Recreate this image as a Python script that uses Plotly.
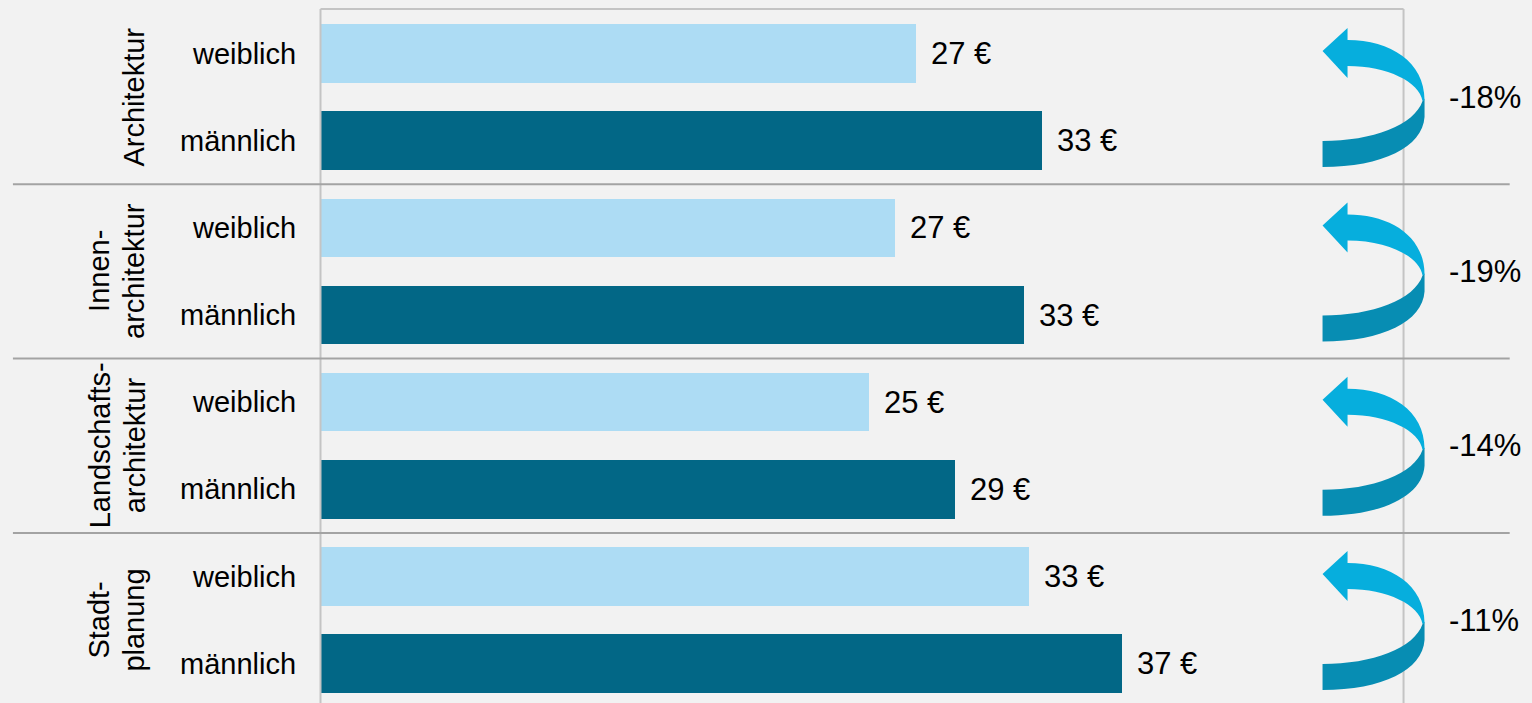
import plotly.graph_objects as go

# ---------------- data ----------------
groups = ["Architektur", "Innen-<br>architektur", "Landschafts-<br>architektur", "Stadt-<br>planung"]
sexes = ["weiblich", "männlich"]
weiblich = [27.5, 26.5, 25.3, 32.7]     # € per hour
maennlich = [33.3, 32.5, 29.3, 37.0]    # € per hour
weiblich_labels = ["27 €", "27 €", "25 €", "33 €"]
maennlich_labels = ["33 €", "33 €", "29 €", "37 €"]
gap_labels = ["-18%", "-19%", "-14%", "-11%"]

# ---------------- layout geometry ----------------
W, H = 1532, 703
X_RANGE = [-14.797, 55.93]
Y_RANGE = [7.451, -0.6137]
PXX = W / (X_RANGE[1] - X_RANGE[0])
PXY = H / (Y_RANGE[0] - Y_RANGE[1])
X_AXIS_MAX = 50
ARROW_X = 46.26
LINE_GAP = 35  # px between the two lines of a group label

FONT = "Liberation Sans, Arial, sans-serif"
C_W = "#ADDCF4"
C_M = "#026786"
C_ARROW_TOP = "#06AEDD"
C_ARROW_BOT = "#078DB3"
C_FRAME = "#C4C4C4"
C_SEP = "#A3A3A3"
BG = "#F2F2F2"

y_w = [2 * i for i in range(len(groups))]
y_m = [2 * i + 1 for i in range(len(groups))]

fig = go.Figure()
fig.add_trace(go.Bar(x=weiblich, y=y_w, orientation="h", width=0.672,
                     marker=dict(color=C_W, line=dict(width=0)), name="weiblich",
                     showlegend=False))
fig.add_trace(go.Bar(x=maennlich, y=y_m, orientation="h", width=0.672,
                     marker=dict(color=C_M, line=dict(width=0)), name="männlich",
                     showlegend=False))

shapes = []
annotations = []

# frame lines
shapes.append(dict(type="line", xref="x", yref="y", x0=0, x1=0, y0=-0.51, y1=Y_RANGE[0],
                   line=dict(color=C_FRAME, width=2)))
shapes.append(dict(type="line", xref="x", yref="y", x0=X_AXIS_MAX, x1=X_AXIS_MAX, y0=-0.51, y1=Y_RANGE[0],
                   line=dict(color=C_FRAME, width=2)))
shapes.append(dict(type="line", xref="x", yref="y", x0=0, x1=X_AXIS_MAX, y0=-0.51, y1=-0.51,
                   line=dict(color=C_FRAME, width=2)))
# group separators
for i in range(1, len(groups)):
    ys = 2 * i - 0.5
    shapes.append(dict(type="line", xref="x", yref="y", x0=-14.2, x1=54.9, y0=ys, y1=ys,
                       line=dict(color=C_SEP, width=2)))


def arrow_paths(gc):
    def P(dx, dy):
        return f"{ARROW_X + dx / PXX:.4f},{gc + dy / PXY:.4f}"
    top = ("M" + P(0, -46) + " L" + P(25, -69) + " L" + P(25, -57) +
           " C" + P(68, -57) + " " + P(102, -35) + " " + P(102, 3) +
           " L" + P(100, 4) +
           " C" + P(97, -15) + " " + P(65, -31) + " " + P(25, -31) +
           " L" + P(25, -19) + " Z")
    bot = ("M" + P(0, 44) + " C" + P(50, 44) + " " + P(92, 28) + " " + P(100, 4) +
           " L" + P(102, 2) + " L" + P(102, 20) +
           " C" + P(100, 50) + " " + P(60, 70) + " " + P(0, 70) + " Z")
    return top, bot


for i, g in enumerate(groups):
    gc = 2 * i + 0.5
    top, bot = arrow_paths(gc)
    shapes.append(dict(type="path", xref="x", yref="y", path=bot,
                       fillcolor=C_ARROW_BOT, line=dict(width=0)))
    shapes.append(dict(type="path", xref="x", yref="y", path=top,
                       fillcolor=C_ARROW_TOP, line=dict(width=0)))
    # group label (one annotation per line, last line aligned at the same place)
    lines = g.split("<br>")
    n = len(lines)
    for k, ln in enumerate(lines):
        annotations.append(dict(x=0, y=gc, xref="x", yref="y", text=ln, textangle=-90,
                                showarrow=False, xanchor="right", yanchor="middle",
                                xshift=-168 - (n - 1 - k) * LINE_GAP,
                                font=dict(family=FONT, size=29, color="#000000")))
    # gap label
    annotations.append(dict(x=52, y=gc, xref="x", yref="y", text=gap_labels[i],
                            showarrow=False, xanchor="left", yanchor="middle",
                            font=dict(family=FONT, size=31, color="#000000")))

# category labels and value labels
for i in range(len(groups)):
    for yy, sx, val, lab in [(y_w[i], sexes[0], weiblich[i], weiblich_labels[i]),
                              (y_m[i], sexes[1], maennlich[i], maennlich_labels[i])]:
        annotations.append(dict(x=0, y=yy, xref="x", yref="y", text=sx, showarrow=False,
                                xanchor="right", yanchor="middle", xshift=-23,
                                font=dict(family=FONT, size=29, color="#000000")))
        annotations.append(dict(x=val, y=yy, xref="x", yref="y", text=lab, showarrow=False,
                                xanchor="left", yanchor="middle", xshift=13,
                                font=dict(family=FONT, size=31, color="#000000")))

fig.update_layout(
    width=W, height=H,
    margin=dict(l=0, r=0, t=0, b=0, pad=0),
    paper_bgcolor=BG, plot_bgcolor=BG,
    xaxis=dict(range=X_RANGE, visible=False, showgrid=False, zeroline=False, fixedrange=True),
    yaxis=dict(range=Y_RANGE, visible=False, showgrid=False, zeroline=False, fixedrange=True),
    shapes=shapes, annotations=annotations,
    bargap=0, showlegend=False,
)

fig.write_html("out.html", config={"displayModeBar": False},
               post_script="document.body.style.margin='0';document.body.style.padding='0';"
                           "document.body.style.overflow='hidden';"
                           "document.body.style.background='" + BG + "';")
